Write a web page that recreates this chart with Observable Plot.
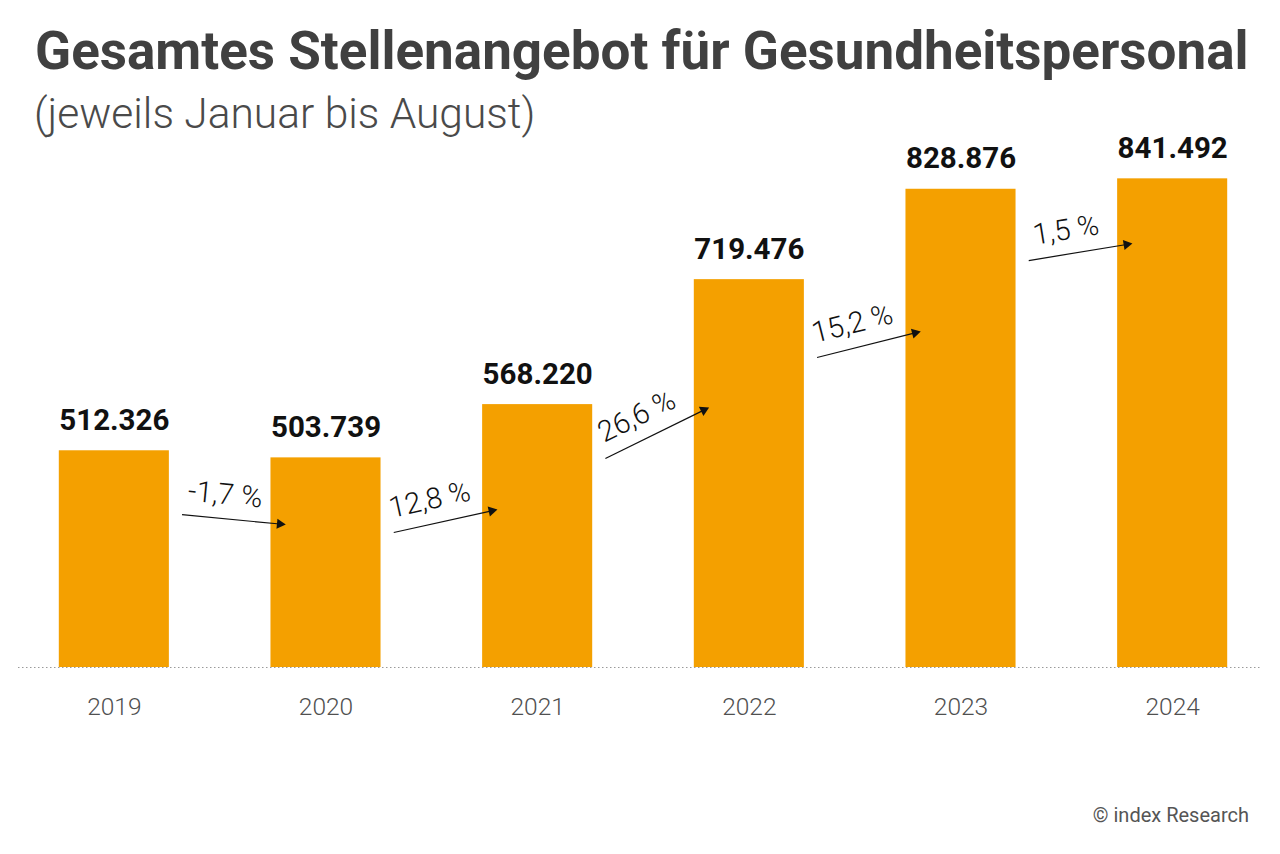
<!DOCTYPE html>
<html>
<head>
<meta charset="utf-8">
<script src="https://cdn.jsdelivr.net/npm/d3@7"></script>
<script src="https://cdn.jsdelivr.net/npm/@observablehq/plot@0.6"></script>
<style>
  body { margin: 0; background: #fff; }
  #wrap { position: relative; width: 1280px; height: 854px; overflow: hidden; font-family: Roboto, sans-serif; }
  #title { position: absolute; left: 35px; top: 25px; font-size: 53px; line-height: 1; font-weight: 700; color: #404040; white-space: nowrap; }
  #subtitle { position: absolute; left: 34px; top: 93px; font-size: 42.5px; line-height: 1; font-weight: 300; color: #4a4a4a; white-space: nowrap; }
  #chart { position: absolute; left: 0; top: 100px; }
  #caption { position: absolute; right: 31px; top: 805px; font-size: 20px; line-height: 1; color: #555; white-space: nowrap; }
</style>
</head>
<body>
<div id="wrap">
  <div id="title">Gesamtes Stellenangebot für Gesundheitspersonal</div>
  <div id="subtitle">(jeweils Januar bis August)</div>
  <div id="chart"></div>
  <div id="caption">© index Research</div>
</div>
<script>
// ---- data ----
const years = ["2019", "2020", "2021", "2022", "2023", "2024"];
const values = [512326, 503739, 568220, 719476, 828876, 841492];
const changeLabels = ["-1,7 %", "12,8 %", "26,6 %", "15,2 %", "1,5 %"];
// arrow levels (in job-count units)
const arrowFrom = [435000, 413400, 503000, 625200, 742600];
const arrowTo = [423000, 441200, 564700, 656700, 763200];

// ---- layout ----
const W = 1280, H = 640;
const M = {top: 30, right: 2, bottom: 73, left: 8};
const yBase = 250000, yTop = 900000;
const xOpts = {type: "linear", domain: [-0.5, 5.5], range: [M.left, W - M.right]};
const yOpts = {type: "linear", domain: [yBase, yTop], range: [H - M.bottom, M.top]};
const xs = Plot.scale({x: xOpts});
const ys = Plot.scale({y: yOpts});

const de = d3.formatLocale({decimal: ",", thousands: ".", grouping: [3], currency: ["", " €"]});
const fmt = de.format(",d");

const bars = years.map((year, i) => ({i, year, value: values[i]}));
const half = 0.26;

const headR = 3.8;
const tipDist = 2 * Math.sqrt(Math.PI * headR * headR / (3 * Math.sqrt(3)));

const arrows = changeLabels.map((label, k) => {
  const x1 = k + 0.32, x2 = k + 1 - 0.19;
  const y1 = arrowFrom[k], y2 = arrowTo[k];
  const px1 = xs.apply(x1), py1 = ys.apply(y1), px2 = xs.apply(x2), py2 = ys.apply(y2);
  const ang = Math.atan2(py2 - py1, px2 - px1);
  const ux = Math.cos(ang), uy = Math.sin(ang);
  const nx = uy, ny = -ux;
  const mx = (px1 + px2) / 2, my = (py1 + py2) / 2;
  const lx = mx - 11 * ux + 24 * nx, ly = my - 11 * uy + 24 * ny;
  const hx = px2 - tipDist * ux, hy = py2 - tipDist * uy;
  return {
    label, x1, y1,
    hx: xs.invert(hx), hy: ys.invert(hy),
    lx: xs.invert(lx), ly: ys.invert(ly),
    rot: ang * 180 / Math.PI
  };
});

const chart = Plot.plot({
  width: W,
  height: H,
  marginTop: M.top, marginRight: M.right, marginBottom: M.bottom, marginLeft: M.left,
  x: {...xOpts, axis: null},
  y: {...yOpts, axis: null},
  style: {fontFamily: "Roboto, sans-serif", background: "transparent", overflow: "visible"},
  marks: [
    Plot.ruleY([yBase], {stroke: "#9a9a9a", strokeWidth: 1, strokeDasharray: "1.5,2.5", insetLeft: 10, insetRight: 18}),
    Plot.rect(bars, {x1: d => d.i - half, x2: d => d.i + half, y1: () => yBase, y2: "value", fill: "#F4A000"}),
    Plot.text(bars, {x: "i", y: "value", text: d => fmt(d.value), dy: -21, lineAnchor: "bottom", textAnchor: "middle", fontSize: 29.5, fontWeight: 700, fill: "#111"}),
    Plot.axisX(bars.map(d => d.i), {tickFormat: i => years[i], tickSize: 0, tickPadding: 30, fontSize: 24.5, fontWeight: 300, color: "#505050"}),
    Plot.link(arrows, {x1: "x1", y1: "y1", x2: "hx", y2: "hy", stroke: "#111", strokeWidth: 1.2}),
    Plot.dot(arrows, {x: "hx", y: "hy", symbol: "triangle", r: headR, rotate: d => d.rot + 90, fill: "#111", stroke: "none"}),
    Plot.text(arrows, {x: "lx", y: "ly", text: "label", rotate: "rot", fontSize: 29, fontWeight: 300, fill: "#111", textAnchor: "middle", lineAnchor: "middle"})
  ]
});
document.getElementById("chart").appendChild(chart);
</script>
</body>
</html>
